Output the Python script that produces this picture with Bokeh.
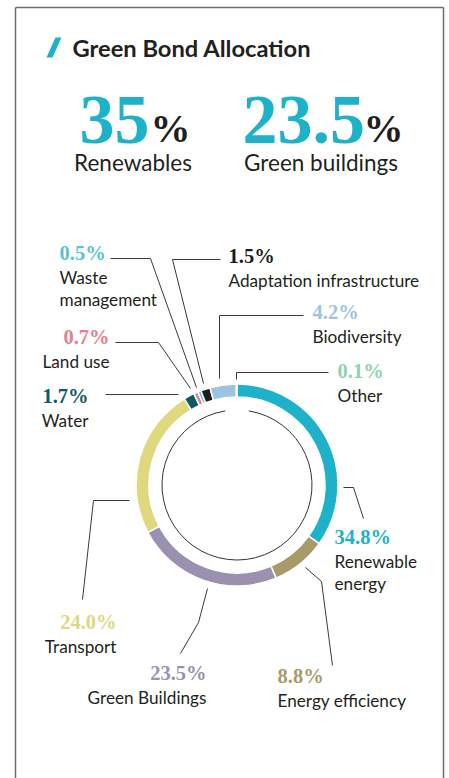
import math
from bokeh.plotting import figure
from bokeh.models import Range1d, ColumnDataSource
from bokeh.embed import file_html
from bokeh.resources import INLINE
from bokeh.core.properties import value

# ---------------- data ----------------
title_text = "Green Bond Allocation"
highlight_values = ["35", "23.5"]
highlight_labels = ["Renewables", "Green buildings"]

categories = ["Renewable energy", "Energy efficiency", "Green Buildings", "Transport",
              "Water", "Land use", "Waste management", "Adaptation infrastructure",
              "Biodiversity", "Other"]
shares = [34.8, 8.8, 23.5, 24.0, 1.7, 0.7, 0.5, 1.5, 4.2, 0.1]
name_lines = [["Renewable", "energy"], ["Energy efficiency"], ["Green Buildings"], ["Transport"],
              ["Water"], ["Land use"], ["Waste", "management"], ["Adaptation infrastructure"],
              ["Biodiversity"], ["Other"]]
colors = ["#1db2c9", "#a99b69", "#9a91b1", "#e0d87e", "#0e5b62", "#e8808f",
          "#5cc2d2", "#1d1d1b", "#9dc3e3", "#8dd3ad"]

# ---------------- layout (screen px) ----------------
W, H = 449, 778
K = 0.34  # baseline correction factor (fraction of font size)

def Y(sy):
    return H - sy

def TY(sy, size):
    return H - sy + K * size

CX, CY = 236.5, 484.5
R_OUT, R_IN, R_THIN = 101, 88, 75
DARK = "#231f20"
SANS = "Lato"
SERIF = "Liberation Serif"
PCT_SIZE = 20.5
NAME_SIZE = 17.2

# label anchor: x, pct baseline, align
label_pos = {
    "Renewable energy": (334, 543, "left"),
    "Energy efficiency": (277, 682, "left"),
    "Green Buildings": (206, 679, "right"),
    "Transport": (116, 628, "right"),
    "Water": (88, 402, "right"),
    "Land use": (109, 343, "right"),
    "Waste management": (59, 259, "left"),
    "Adaptation infrastructure": (228, 262, "left"),
    "Biodiversity": (312, 318, "left"),
    "Other": (337, 377, "left"),
}
leaders = {
    "Renewable energy": [(343, 487), (353, 487), (363, 518)],
    "Energy efficiency": [(305, 567), (321, 581), (332, 665)],
    "Green Buildings": [(207, 588), (198, 622), (180, 653)],
    "Transport": [(129, 500), (93, 500), (82, 599)],
    "Water": [(105, 394), (178, 394)],
    "Land use": [(115, 342), (158, 342), (190, 388)],
    "Waste management": [(110, 258), (150, 258), (196, 387)],
    "Adaptation infrastructure": [(220, 259), (172, 259), (203, 383)],
    "Biodiversity": [(303, 315), (219, 315), (219, 378)],
    "Other": [(328, 372), (236, 372), (236, 379)],
}

p = figure(width=W, height=H, x_range=Range1d(0, W), y_range=Range1d(0, H),
           output_backend="svg", toolbar_location=None, min_border=0,
           x_axis_type=None, y_axis_type=None)
p.grid.visible = False
p.outline_line_color = None
p.background_fill_color = "white"
p.border_fill_color = "white"

# frame
p.segment(x0=[15, 15, 443], y0=[Y(7), Y(7), Y(7)], x1=[443, 15, 443], y1=[Y(7), Y(790), Y(790)],
          line_color="#6d6e70", line_width=1.5)

# title
p.patch(x=[46, 52, 61, 55], y=[Y(57), Y(57), Y(37), Y(37)], fill_color="#1db2c9", line_color=None)
p.text(x=[72], y=[TY(56, 23.7)], text=[title_text], text_font=value(SANS), text_font_style="bold",
       text_font_size="23.7px", text_color=DARK, text_baseline="alphabetic", text_align="left")

# highlights
p.text(x=[79, 242], y=[TY(143, 70)] * 2, text=highlight_values, text_font=value(SERIF),
       text_font_style="bold", text_font_size="70px", text_color="#1db2c9",
       text_baseline="alphabetic", text_align="left")
p.text(x=[150, 363], y=[TY(142, 40)] * 2, text=["%", "%"], text_font=value(SERIF),
       text_font_style="bold", text_font_size="40px", text_color=DARK,
       text_baseline="alphabetic", text_align="left")
p.text(x=[132.5, 320.5], y=[TY(170, 22.5)] * 2, text=highlight_labels, text_font=value(SANS),
       text_font_size="22.5px", text_color=DARK, text_baseline="alphabetic", text_align="center")

# ring
total = sum(shares)
starts, ends = [], []
cum = 0.0
for v in shares:
    starts.append(math.pi / 2 - 2 * math.pi * cum / total)
    cum += v
    ends.append(math.pi / 2 - 2 * math.pi * cum / total)
ring = ColumnDataSource(dict(x=[CX] * len(shares), y=[Y(CY)] * len(shares),
                             start=starts, end=ends, color=colors))
p.annular_wedge(x="x", y="y", inner_radius=R_IN, outer_radius=R_OUT, start_angle="start",
                end_angle="end", direction="clock", fill_color="color", line_color="white",
                line_width=1.5, source=ring)

# thin inner circle with a gap at top
gap = math.radians(9)
p.arc(x=[CX], y=[Y(CY)], radius=R_THIN, start_angle=math.pi / 2 - gap, end_angle=math.pi / 2 + gap,
      direction="clock", line_color="#333333", line_width=1)

# leaders
xs = [[pt[0] for pt in leaders[c]] for c in categories]
ys = [[Y(pt[1]) for pt in leaders[c]] for c in categories]
p.multi_line(xs=xs, ys=ys, line_color="#3a3a3a", line_width=1)

# labels
for align in ("left", "right"):
    px, py, pt, pc = [], [], [], []
    nx, ny, nt = [], [], []
    for c, v, col, lines in zip(categories, shares, colors, name_lines):
        x, b, a = label_pos[c]
        if a != align:
            continue
        px.append(x); py.append(TY(b, PCT_SIZE)); pt.append(f"{v:.1f}%"); pc.append(col)
        for i, ln in enumerate(lines):
            nx.append(x); ny.append(TY(b + 23.5 + 22.5 * i, NAME_SIZE)); nt.append(ln)
    p.text(x="x", y="y", text="t", text_color="c",
           source=ColumnDataSource(dict(x=px, y=py, t=pt, c=pc)),
           text_font=value(SERIF), text_font_style="bold", text_font_size=f"{PCT_SIZE}px",
           text_baseline="alphabetic", text_align=align)
    p.text(x=nx, y=ny, text=nt, text_font=value(SANS), text_font_size=f"{NAME_SIZE}px",
           text_color=DARK, text_baseline="alphabetic", text_align=align)

open("out.html", "w").write(file_html(p, INLINE))
